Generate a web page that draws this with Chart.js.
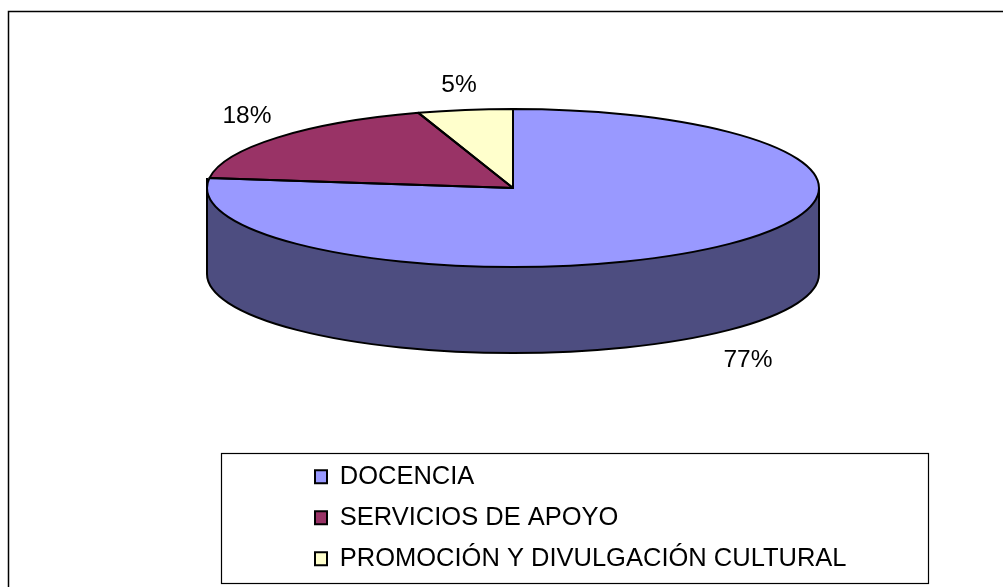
<!DOCTYPE html>
<html>
<head>
<meta charset="utf-8">
<style>html,body{margin:0;padding:0;background:#fff}canvas{display:block}</style>
<script src="https://cdn.jsdelivr.net/npm/chart.js@4"></script>
</head>
<body>
<canvas id="c" width="1003" height="587"></canvas>
<script>
const categories = ['DOCENCIA', 'SERVICIOS DE APOYO', 'PROMOCIÓN Y DIVULGACIÓN CULTURAL'];
const values = [77, 18, 5];
const topColors = ['#9999FF', '#993366', '#FFFFCC'];
const wallColors = ['#4D4D80', '#4D1A33', '#808066'];

const FONT = '"Liberation Sans", Arial, sans-serif';
const VALUE_FONT_SIZE = 24.5;
const LEGEND_FONT_SIZE = 25.5;
const pie = {cx: 513, cy: 188, rx: 306, ry: 79, depth: 86, r: 200};
const valueLabelAt = [[748, 360], [247, 116], [459, 85]];
const legendBox = {x: 221, y: 453, w: 707, h: 130};

function ellipseArc(ctx, dy, a0, a1, ccw) {
  ctx.ellipse(pie.cx, pie.cy + dy, pie.rx, pie.ry, 0, a0, a1, !!ccw);
}

const pie3d = {
  id: 'pie3d',
  beforeDraw(chart) {
    const ctx = chart.ctx;
    ctx.save();
    ctx.fillStyle = '#fff';
    ctx.fillRect(0, 0, chart.width, chart.height);
    ctx.strokeStyle = '#000';
    ctx.lineWidth = 1.5;
    ctx.beginPath();
    ctx.moveTo(8.5, chart.height);
    ctx.lineTo(8.5, 11.5);
    ctx.lineTo(chart.width, 11.5);
    ctx.stroke();
    ctx.lineWidth = 1.2;
    ctx.strokeRect(legendBox.x + 0.5, legendBox.y + 0.5, legendBox.w, legendBox.h);
    ctx.restore();
  },
  afterLayout(chart) {
    const lg = chart.legend;
    lg.left = 299.5; lg.top = 448.6;
    lg.right = lg.left + lg.width; lg.bottom = lg.top + lg.height;
  },
  beforeDatasetsDraw(chart) {
    const ctx = chart.ctx;
    const arcs = chart.getDatasetMeta(0).data;
    // side wall of the visible front half, taken from each slice's angles
    ctx.save();
    arcs.forEach((arc, i) => {
      const {startAngle, endAngle} = arc.getProps(['startAngle', 'endAngle'], true);
      const a0 = Math.max(startAngle, 0), a1 = Math.min(endAngle, Math.PI);
      if (a1 <= a0) return;
      ctx.beginPath();
      ellipseArc(ctx, pie.depth, a0, a1);
      ellipseArc(ctx, 0, a1, a0, true);
      ctx.closePath();
      ctx.fillStyle = wallColors[i];
      ctx.fill();
    });
    ctx.strokeStyle = '#000';
    ctx.lineWidth = 2;
    ctx.lineJoin = 'round';
    ctx.beginPath();
    ctx.moveTo(pie.cx - pie.rx, pie.cy - 10);
    ctx.lineTo(pie.cx - pie.rx, pie.cy + pie.depth);
    ellipseArc(ctx, pie.depth, Math.PI, 0, true);
    ctx.lineTo(pie.cx + pie.rx, pie.cy);
    ctx.stroke();
    ctx.restore();
    // the library's own arcs get squashed into the ellipse of the top face
    ctx.save();
    const c = arcs[0];
    ctx.translate(pie.cx, pie.cy);
    ctx.scale(pie.rx / pie.r, pie.ry / pie.r);
    ctx.translate(-c.x, -c.y);
  },
  afterDatasetsDraw(chart) {
    const ctx = chart.ctx;
    ctx.restore();
    const arcs = chart.getDatasetMeta(0).data;
    ctx.save();
    ctx.strokeStyle = '#000';
    ctx.lineWidth = 2;
    ctx.lineJoin = 'round';
    arcs.forEach(arc => {
      const {startAngle, endAngle} = arc.getProps(['startAngle', 'endAngle'], true);
      ctx.beginPath();
      ctx.moveTo(pie.cx, pie.cy);
      ellipseArc(ctx, 0, startAngle, endAngle);
      ctx.closePath();
      ctx.stroke();
    });
    const total = values.reduce((a, b) => a + b, 0);
    ctx.fillStyle = '#000';
    ctx.font = VALUE_FONT_SIZE + 'px ' + FONT;
    ctx.textAlign = 'center';
    ctx.textBaseline = 'middle';
    values.forEach((v, i) => {
      ctx.fillText(Math.round(v / total * 100) + '%', valueLabelAt[i][0], valueLabelAt[i][1]);
    });
    ctx.restore();
  }
};

new Chart(document.getElementById('c'), {
  type: 'pie',
  data: {
    labels: categories,
    datasets: [{
      data: values,
      backgroundColor: topColors,
      borderWidth: 0,
      radius: pie.r,
      clip: false
    }]
  },
  plugins: [pie3d],
  options: {
    responsive: false,
    animation: false,
    layout: {padding: 0},
    plugins: {
      tooltip: {enabled: false},
      legend: {
        position: 'chartArea',
        align: 'start',
        labels: {
          boxWidth: 12,
          boxHeight: 13,
          padding: 15.5,
          color: '#000',
          font: {family: FONT, size: LEGEND_FONT_SIZE},
          generateLabels(chart) {
            return chart.data.labels.map((t, i) => ({
              text: t,
              fillStyle: topColors[i],
              strokeStyle: '#000',
              lineWidth: 2,
              index: i,
              hidden: false
            }));
          }
        }
      }
    }
  }
});
</script>
</body>
</html>
